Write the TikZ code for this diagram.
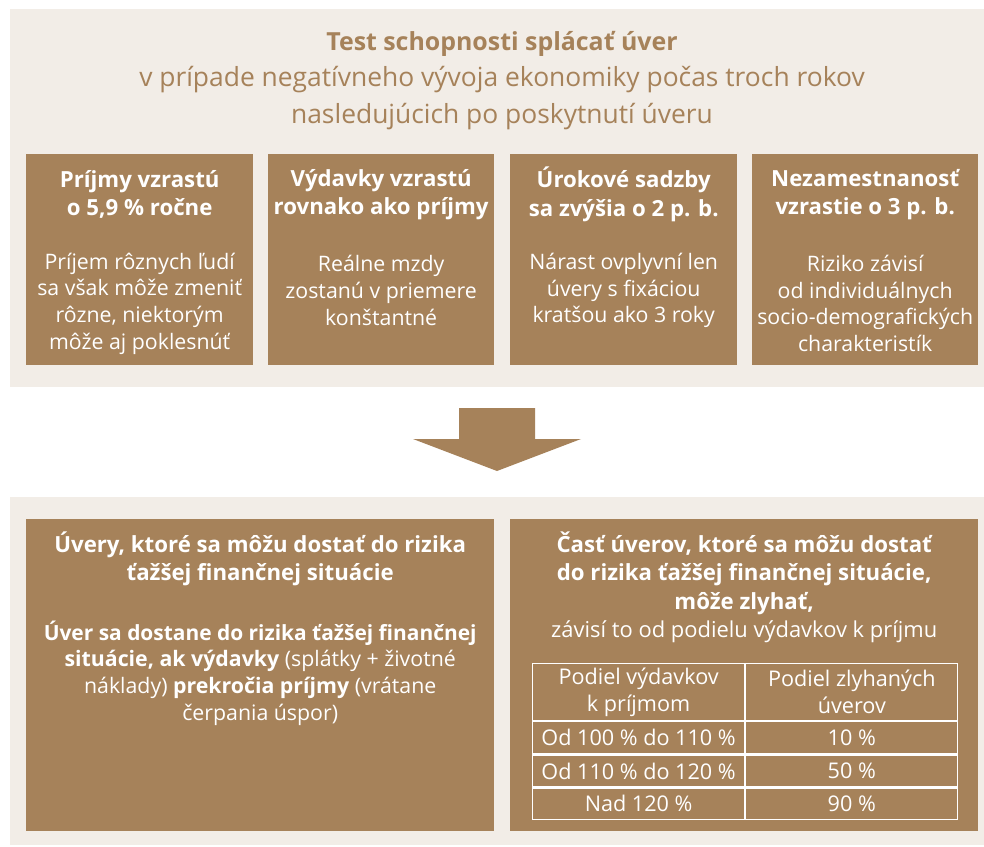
\documentclass[tikz,border=0pt]{standalone}
\usepackage{fontspec}
\setmainfont{Open Sans}
\definecolor{bg}{HTML}{F2EDE7}
\definecolor{brn}{HTML}{A6825A}
\begin{document}
\begin{tikzpicture}[x=1bp,y=-1bp,
  card/.style={fill=brn, draw=none, anchor=north west, inner sep=0, minimum width=#1},
  txt/.style={text=white, align=center, inner sep=0, font=\fontsize{21.4}{26.8}\selectfont},
  ttl/.style={text=white, align=center, inner sep=0, font=\bfseries\fontsize{22.3}{28.5}\selectfont},
  cell/.style={draw=white, line width=1.2bp, inner sep=0, minimum width=212bp, text=white, align=center, font=\fontsize{21.7}{26.8}\selectfont},
]
\useasboundingbox (0,0) rectangle (984,847);
% panels
\fill[bg] (10,9) rectangle (994,387);
\fill[bg] (10,497) rectangle (994,845);
% title
\node[text=brn, align=center, inner sep=0, font=\fontsize{26.5}{36.5}\selectfont] (title) at (502,80.5)
  {{\fontsize{25}{36.5}\selectfont\bfseries Test schopnosti splácať úver}\\v prípade negatívneho vývoja ekonomiky počas troch rokov\\nasledujúcich po poskytnutí úveru};
% top cards
\node[card=227bp, minimum height=211bp] (c1) at (26,154) {};
\node[card=226bp, minimum height=211bp] (c2) at (268,154) {};
\node[card=227bp, minimum height=211bp] (c3) at (510,154) {};
\node[card=226bp, minimum height=211bp] (c4) at (752,154) {};
\node[ttl] (t1) at ([yshift=-40.5bp]c1.north) {Príjmy vzrastú\\o 5,9 \% ročne};
\node[ttl] (t2) at ([yshift=-40.5bp]c2.north) {Výdavky vzrastú\\rovnako ako príjmy};
\node[ttl] (t3) at ([yshift=-40.5bp]c3.north) {Úrokové sadzby\\sa zvýšia o 2 p. b.};
\node[ttl] (t4) at ([yshift=-40.5bp]c4.north) {Nezamestnanosť\\vzrastie o 3 p. b.};
\node[txt] (b1) at ([yshift=-149.5bp]c1.north) {Príjem rôznych ľudí\\sa však môže zmeniť\\rôzne, niektorým\\môže aj poklesnúť};
\node[txt] (b2) at ([yshift=-136.5bp]c2.north) {Reálne mzdy\\zostanú v priemere\\konštantné};
\node[txt] (b3) at ([yshift=-136.5bp]c3.north) {Nárast ovplyvní len\\úvery s fixáciou\\kratšou ako 3 roky};
\node[txt] (b4) at ([yshift=-149.5bp]c4.north) {Riziko závisí\\od individuálnych\\socio-demografických\\charakteristík};
% arrow
\fill[brn] (459,408) -- (535,408) -- (535,439) -- (581,439) -- (497,471) -- (413,439) -- (459,439) -- cycle;
% bottom cards
\node[card=468bp, minimum height=312bp] (d1) at (26,519) {};
\node[card=468bp, minimum height=312bp] (d2) at (510,519) {};
\node[ttl] (e1) at ([yshift=-40bp]d1.north) {Úvery, ktoré sa môžu dostať do rizika\\ťažšej finančnej situácie};
\node[txt] (f1) at ([yshift=-154bp]d1.north) {{\fontsize{21}{26.8}\selectfont\bfseries Úver sa dostane do rizika ťažšej finančnej}\\\textbf{situácie, ak výdavky} (splátky + životné\\náklady) \textbf{prekročia príjmy} (vrátane\\čerpania úspor)};
\node[ttl] (e2) at ([yshift=-54bp]d2.north) {Časť úverov, ktoré sa môžu dostať\\do rizika ťažšej finančnej situácie,\\môže zlyhať,};
\node[txt, font=\fontsize{22}{26.8}\selectfont] (f2) at ([yshift=-113bp]d2.north) {závisí to od podielu výdavkov k príjmu};
% table
\node[cell, anchor=north west, minimum height=57bp] (h1) at (532,663) {Podiel výdavkov\\k príjmom};
\node[cell, anchor=north west, minimum height=57bp] (h2) at (h1.north east) {Podiel zlyhaných\\úverov};
\node[cell, anchor=north west, minimum height=32bp] (r1a) at (h1.south west) {Od 100 \% do 110 \%};
\node[cell, anchor=north west, minimum height=32bp] (r1b) at (r1a.north east) {10 \%};
\node[cell, anchor=north west, minimum height=32bp] (r2a) at (r1a.south west) {Od 110 \% do 120 \%};
\node[cell, anchor=north west, minimum height=32bp] (r2b) at (r2a.north east) {50 \%};
\node[cell, anchor=north west, minimum height=31bp] (r3a) at (r2a.south west) {Nad 120 \%};
\node[cell, anchor=north west, minimum height=31bp] (r3b) at (r3a.north east) {90 \%};
\end{tikzpicture}
\end{document}
